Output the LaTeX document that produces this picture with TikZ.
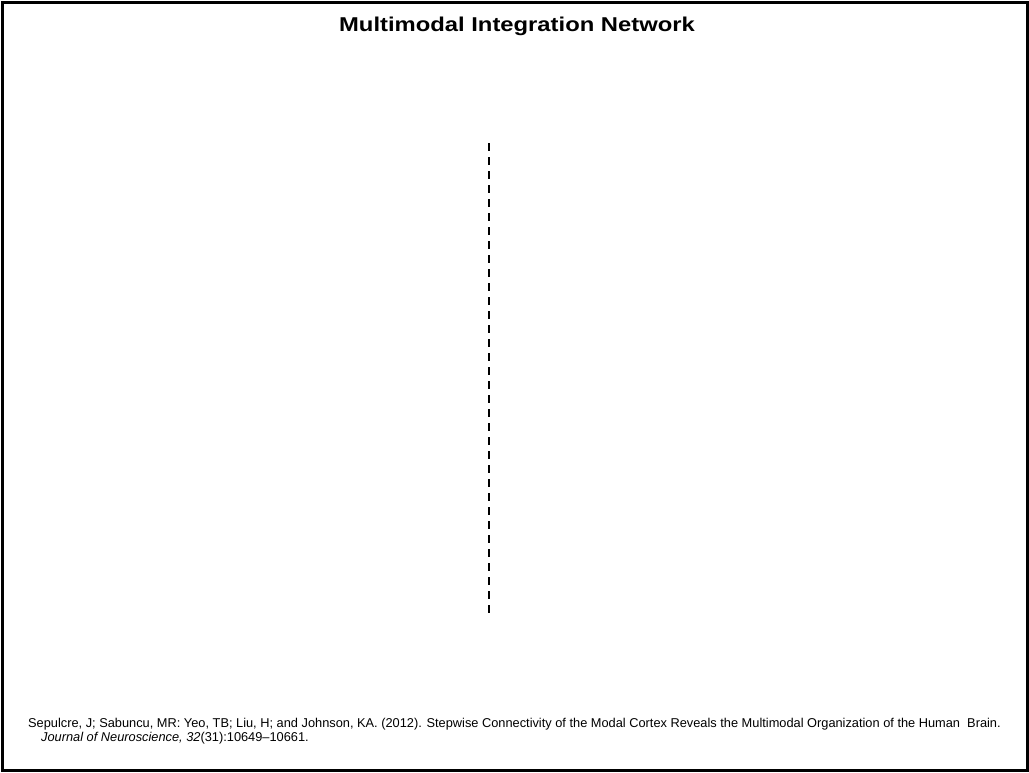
\documentclass[tikz,border=0pt]{standalone}
\usepackage{fontspec}
\setmainfont{Liberation Sans}
\begin{document}
\begin{tikzpicture}[x=1pt,y=-1pt,
  frame/.style={draw=black,line width=3pt},
  divider/.style={draw=black,line width=2pt,dash pattern=on 8pt off 6pt},
  titletext/.style={font=\fontsize{20}{24}\selectfont\bfseries,inner sep=0pt,anchor=base,xscale=1.19},
  citetext/.style={font=\fontsize{12.8}{15}\selectfont,inner sep=0pt,anchor=base west}]
\useasboundingbox (0,0) rectangle (1029,772);
\draw[frame] (2.5,2.5) rectangle (1027,770);
\node[titletext] (title) at (517,31) {Multimodal Integration Network};
\coordinate (divtop) at (488.5,143);
\coordinate (divbot) at (488.5,616);
\draw[divider] (divtop) -- (divbot);
\node[citetext] (cite1) at (28,727) {Sepulcre, J; Sabuncu, MR: Yeo, TB; Liu, H; and Johnson, KA. (2012). Stepwise Connectivity of the Modal Cortex Reveals the Multimodal Organization of the Human\ \ Brain.};
\node[citetext] (cite2) at (41,741) {\textit{Journal of Neuroscience, 32}(31):10649–10661.};
\end{tikzpicture}
\end{document}
